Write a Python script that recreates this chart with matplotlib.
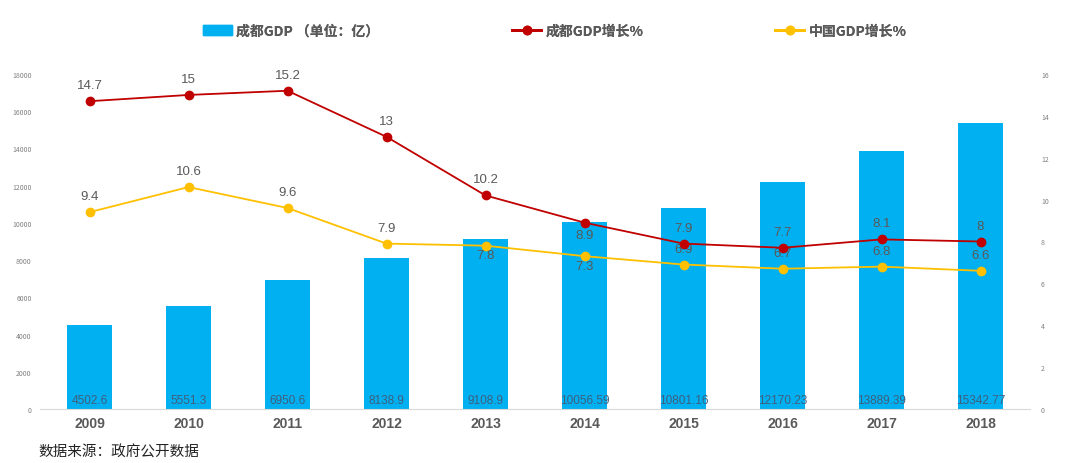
import matplotlib
matplotlib.use("Agg")
import matplotlib.pyplot as plt
from matplotlib.lines import Line2D
from matplotlib.patches import Patch

plt.rcParams['font.family'] = ['Noto Sans CJK SC', 'DejaVu Sans']

years = ['2009', '2010', '2011', '2012', '2013', '2014', '2015', '2016', '2017', '2018']
cd_gdp = [4502.6, 5551.3, 6950.6, 8138.9, 9108.9, 10056.59, 10801.16, 12170.23, 13889.39, 15342.77]
cd_gdp_labels = ['4502.6', '5551.3', '6950.6', '8138.9', '9108.9', '10056.59', '10801.16', '12170.23', '13889.39', '15342.77']
cd_growth = [14.7, 15, 15.2, 13, 10.2, 8.9, 7.9, 7.7, 8.1, 8]
cn_growth = [9.4, 10.6, 9.6, 7.9, 7.8, 7.3, 6.9, 6.7, 6.8, 6.6]
cd_growth_labels = ['14.7', '15', '15.2', '13', '10.2', '8.9', '7.9', '7.7', '8.1', '8']
cn_growth_labels = ['9.4', '10.6', '9.6', '7.9', '7.8', '7.3', '6.9', '6.7', '6.8', '6.6']
# label placement: +1 above point, -1 below point
cd_pos = [1, 1, 1, 1, 1, -1, 1, 1, 1, 1]
cn_pos = [1, 1, 1, 1, -1, -1, 1, 1, 1, 1]

BLUE = '#00B0F0'
RED = '#C00000'
YEL = '#FFC000'
TXT = '#595959'
NUMFONT = ['Liberation Sans', 'DejaVu Sans']

fig = plt.figure(figsize=(10.8, 4.64), dpi=100)
ax = fig.add_axes([40/1080, 1-410/464, 990/1080, 335/464])
ax2 = ax.twinx()

x = list(range(len(years)))
ax.bar(x, cd_gdp, width=0.45, color=BLUE, zorder=2)
for xi, lab in zip(x, cd_gdp_labels):
    ax.text(xi, 500, lab, ha='center', va='center', fontsize=8.5, color='#3F5F7F', family=NUMFONT)

ax.set_xlim(-0.5, len(years) - 0.5)
ax.set_ylim(0, 18000)
ax.set_yticks(range(0, 18001, 2000))
ax.tick_params(axis='y', labelsize=5, colors='#808080', length=0, pad=6)
ax.tick_params(axis='x', length=0, pad=5)
ax.set_xticks(x)
ax.set_xticklabels(years, fontsize=10, fontweight='bold', color=TXT, family=NUMFONT)
for s in ['top', 'right', 'left']:
    ax.spines[s].set_visible(False)
ax.spines['bottom'].set_color('#D9D9D9')

ax2.set_ylim(0, 16)
ax2.set_yticks(range(0, 17, 2))
ax2.tick_params(axis='y', labelsize=5, colors='#808080', length=0, pad=8)
for s in ['top', 'right', 'left', 'bottom']:
    ax2.spines[s].set_visible(False)

ax2.plot(x, cd_growth, color=RED, lw=1.3, marker='o', ms=6, zorder=4)
ax2.plot(x, cn_growth, color=YEL, lw=1.3, marker='o', ms=6, zorder=3)
for xi, v, lab, p in zip(x, cd_growth, cd_growth_labels, cd_pos):
    ax2.annotate(lab, (xi, v), xytext=(0, 11.5 if p > 0 else -9), textcoords='offset points',
                 ha='center', va='center', fontsize=9.5, color=TXT, family=NUMFONT)
for xi, v, lab, p in zip(x, cn_growth, cn_growth_labels, cn_pos):
    ax2.annotate(lab, (xi, v), xytext=(0, 11.5 if p > 0 else -7), textcoords='offset points',
                 ha='center', va='center', fontsize=9.5, color=TXT, family=NUMFONT)

legend_items = [
    (Patch(color=BLUE), '成都GDP （单位：亿）', 203),
    (Line2D([], [], color=RED, lw=2, marker='o', ms=6), '成都GDP增长%', 512),
    (Line2D([], [], color=YEL, lw=2, marker='o', ms=6), '中国GDP增长%', 775),
]
for h, lab, px in legend_items:
    leg = fig.legend([h], [lab], loc='center left', bbox_to_anchor=(px/1080, 1 - 32/464),
                     frameon=False, borderpad=0, borderaxespad=0, handlelength=2.1,
                     handletextpad=0.3,
                     prop={'family': ['Noto Sans CJK SC'], 'size': 10, 'weight': 'bold'},
                     labelcolor=TXT)
    fig.add_artist(leg)

fig.text(38/1080, 1 - 453/464, '数据来源：政府公开数据', fontsize=10.5, color='#222222', va='center', ha='left')

fig.savefig('out.png', dpi=100)
